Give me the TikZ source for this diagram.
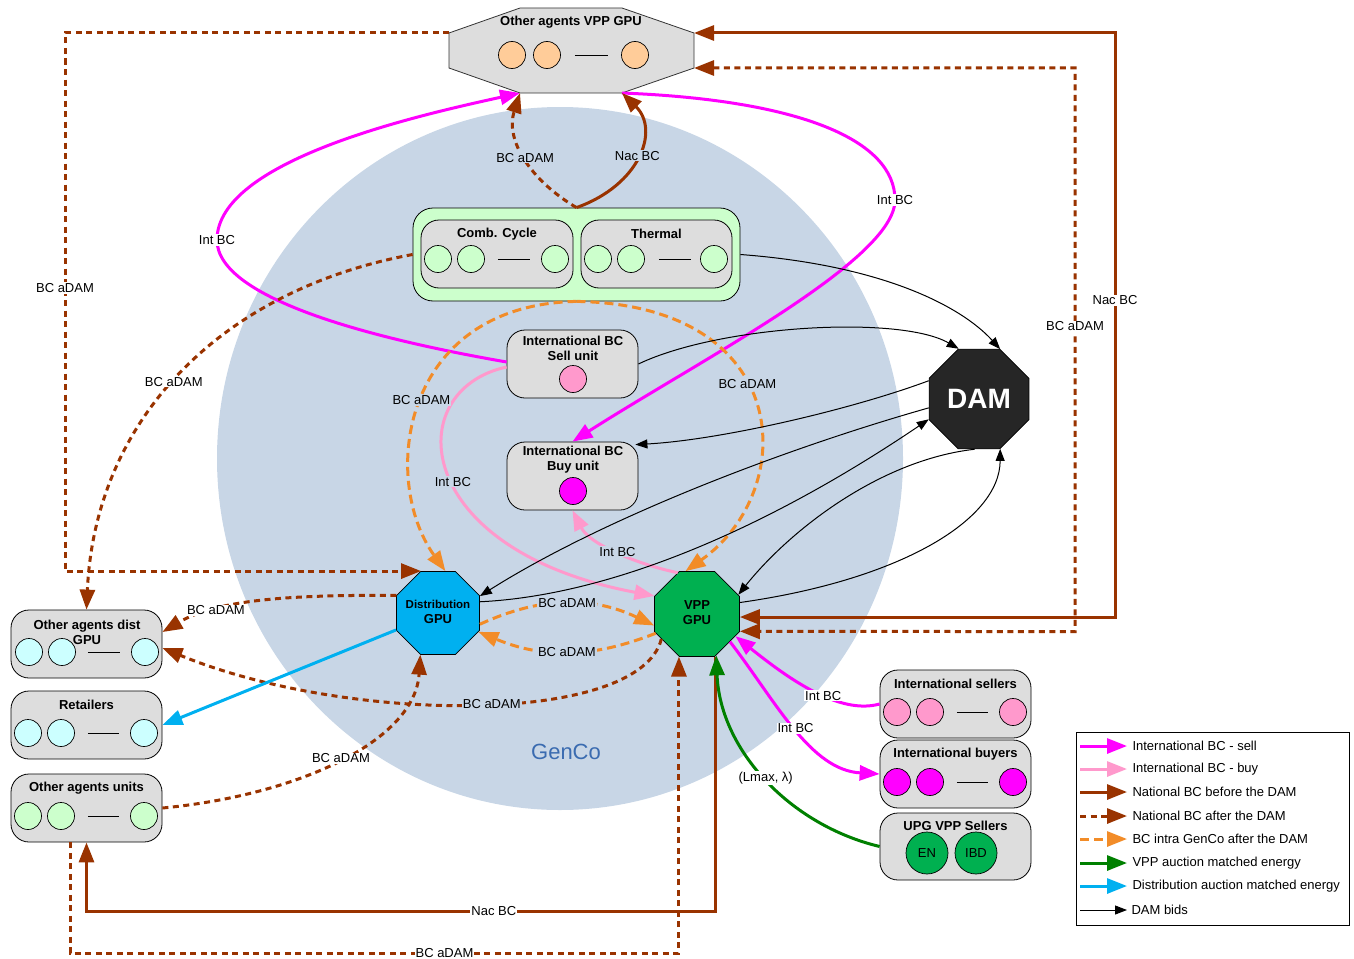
\documentclass[tikz,border=0pt]{standalone}
\usepackage{fontspec}
\setmainfont{Liberation Sans}
\usetikzlibrary{arrows.meta,shapes.geometric,positioning}
\definecolor{gcBg}{HTML}{C8D6E6}
\definecolor{gcBox}{HTML}{DDDDDD}
\definecolor{gcLime}{HTML}{CCFFCC}
\definecolor{gcCyan}{HTML}{CCFFFF}
\definecolor{gcPeach}{HTML}{FFCC99}
\definecolor{gcPink}{HTML}{FF99CC}
\definecolor{gcMag}{HTML}{FF00FF}
\definecolor{gcBrown}{HTML}{993300}
\definecolor{gcOrange}{HTML}{F28C28}
\definecolor{gcGreen}{HTML}{008000}
\definecolor{gcVpp}{HTML}{00B050}
\definecolor{gcDist}{HTML}{00B0F0}
\definecolor{gcDam}{HTML}{262626}
\definecolor{gcText}{HTML}{3A6BB0}
\newcommand{\gcsize}{\fontsize{13}{15}\selectfont}

\begin{document}
\begin{tikzpicture}[x=1pt,y=-1pt,>={Triangle[length=20pt,width=15pt]},
    boxGC/.style={draw=black,fill=gcBox,rounded corners=18pt,line width=0.8pt,inner sep=0pt,minimum width=151pt,minimum height=68pt},
    dotGC/.style={circle,draw=black,line width=0.7pt,minimum size=27pt,inner sep=0pt},
    titleGC/.style={font=\gcsize\bfseries,align=center,inner sep=0pt},
    octaGC/.style={regular polygon,regular polygon sides=8,draw=black,line width=0.7pt,inner sep=0pt},
    lblGC/.style={font=\gcsize,fill=white,inner sep=1pt},
    lblInGC/.style={lblGC,fill=gcBg},
    legGC/.style={font=\gcsize,anchor=west,inner sep=4pt},
    intSellGC/.style={->,draw=gcMag,line width=3pt},
    intBuyGC/.style={->,draw=gcPink,line width=3pt},
    nacGC/.style={->,draw=gcBrown,line width=3pt},
    adamGC/.style={->,draw=gcBrown,line width=3pt,dash pattern=on 6pt off 4.5pt},
    intraGC/.style={->,draw=gcOrange,line width=3pt,dash pattern=on 9pt off 5pt},
    vppEnGC/.style={->,draw=gcGreen,line width=3pt},
    distEnGC/.style={->,draw=gcDist,line width=3pt},
    bidGC/.style={->,>={Triangle[length=12pt,width=9pt]},draw=black,line width=1pt},
]
\useasboundingbox (0,0) rectangle (1354,958);
% GenCo area
\fill[gcBg] (560,458.5) ellipse[x radius=343pt,y radius=351.5pt];
\node[text=gcText,font=\fontsize{22}{26}\selectfont] (gencoT) at (566,752) {GenCo};

% Other agents VPP GPU
\coordinate (vppOtl) at (520,8);
\coordinate (vppOtr) at (622,8);
\coordinate (vppOru) at (694,33);
\coordinate (vppOrd) at (694,68);
\coordinate (vppObr) at (622,93);
\coordinate (vppObl) at (520,93);
\coordinate (vppOld) at (449,68);
\coordinate (vppOlu) at (449,33);
\draw[fill=gcBox,draw=black!80,line width=0.8pt] (vppOtl) -- (vppOtr) -- (vppOru) -- (vppOrd) -- (vppObr) -- (vppObl) -- (vppOld) -- (vppOlu) -- cycle;
\node[dotGC,fill=gcPeach] (vppO1) at (512,55) {};
\node[dotGC,fill=gcPeach] (vppO2) at (547,55) {};
\node[dotGC,fill=gcPeach] (vppO3) at (635,55) {};
\draw ([xshift=14pt]vppO2.east) -- ([xshift=-13pt]vppO3.west);
\node[titleGC] (vppOT) at (571,22) {Other agents VPP GPU};

% GenCo units
\node[draw=black,fill=gcLime,rounded corners=20pt,minimum width=327pt,minimum height=93pt,line width=0.8pt] (genco) at (576.5,254.5) {};
\node[boxGC,minimum width=152pt] (comb) at (497,254) {};
\node[boxGC] (therm) at (656.5,254) {};
\node[dotGC,fill=gcLime] (comb1) at (438,259) {};
\node[dotGC,fill=gcLime] (comb2) at (471,259) {};
\node[dotGC,fill=gcLime] (comb3) at (555,259) {};
\draw ([xshift=13pt]comb2.east) -- ([xshift=-11pt]comb3.west);
\node[dotGC,fill=gcLime] (therm1) at (598,259) {};
\node[dotGC,fill=gcLime] (therm2) at (631,259) {};
\node[dotGC,fill=gcLime] (therm3) at (714,259) {};
\draw ([xshift=14pt]therm2.east) -- ([xshift=-9pt]therm3.west);
\node[titleGC] (combT) at (497,234) {Comb. Cycle};
\node[titleGC] (thermT) at (656.5,234) {Thermal};

% International BC units
\node[boxGC,minimum width=131pt] (sellU) at (572.5,364) {};
\node[dotGC,fill=gcPink] (sell1) at (573,379) {};
\node[titleGC] (sellT) at (573,348.5) {International BC\\Sell unit};
\node[boxGC,minimum width=131pt] (buyU) at (572.5,476) {};
\node[dotGC,fill=gcMag] (buy1) at (573,491) {};
\node[titleGC] (buyT) at (573,460) {International BC\\Buy unit};

% Markets
\node[octaGC,fill=gcDam,minimum size=108pt] (dam) at (979,399) {};
\node[titleGC,text=white,font=\fontsize{28}{30}\selectfont\bfseries] (damT) at (979,399) {DAM};
\node[octaGC,fill=gcDist,minimum size=90pt] (dist) at (438,613) {};
\node[titleGC] (distT) at (438,612) {{\fontsize{11.5}{15}\selectfont Distribution}\\GPU};
\node[octaGC,fill=gcVpp,minimum size=92pt] (vpp) at (697,614) {};
\node[titleGC] (vppT) at (697,613) {VPP\\GPU};

% Left agents
\node[boxGC] (otherD) at (86.5,644) {};
\node[dotGC,fill=gcCyan] (otherD1) at (29,652) {};
\node[dotGC,fill=gcCyan] (otherD2) at (62,652) {};
\node[dotGC,fill=gcCyan] (otherD3) at (145,652) {};
\draw ([xshift=12pt]otherD2.east) -- ([xshift=-11pt]otherD3.west);
\node[titleGC] (otherDT) at (87,632) {Other agents dist\\GPU};
\node[boxGC] (retail) at (86.5,725) {};
\node[dotGC,fill=gcCyan] (retail1) at (28,733) {};
\node[dotGC,fill=gcCyan] (retail2) at (61,733) {};
\node[dotGC,fill=gcCyan] (retail3) at (144,733) {};
\draw ([xshift=13pt]retail2.east) -- ([xshift=-11pt]retail3.west);
\node[titleGC] (retailT) at (86.5,705) {Retailers};
\node[boxGC] (otherU) at (86.5,808) {};
\node[dotGC,fill=gcLime] (otherU1) at (28,816) {};
\node[dotGC,fill=gcLime] (otherU2) at (61,816) {};
\node[dotGC,fill=gcLime] (otherU3) at (144,816) {};
\draw ([xshift=13pt]otherU2.east) -- ([xshift=-11pt]otherU3.west);
\node[titleGC] (otherUT) at (86.5,788) {Other agents units};

% Right agents
\node[boxGC] (intS) at (955.5,704) {};
\node[dotGC,fill=gcPink] (intS1) at (897,712) {};
\node[dotGC,fill=gcPink] (intS2) at (930,712) {};
\node[dotGC,fill=gcPink] (intS3) at (1013,712) {};
\draw ([xshift=13pt]intS2.east) -- ([xshift=-11pt]intS3.west);
\node[titleGC] (intST) at (955.5,684) {International sellers};
\node[boxGC] (intB) at (955.5,774) {};
\node[dotGC,fill=gcMag] (intB1) at (897,782) {};
\node[dotGC,fill=gcMag] (intB2) at (930,782) {};
\node[dotGC,fill=gcMag] (intB3) at (1013,782) {};
\draw ([xshift=13pt]intB2.east) -- ([xshift=-11pt]intB3.west);
\node[titleGC] (intBT) at (955.5,754) {International buyers};
\node[boxGC,minimum height=67pt] (upg) at (955.5,846.5) {};
\node[dotGC,fill=gcVpp,minimum size=42pt,font=\gcsize] (upgEN) at (927,853) {EN};
\node[dotGC,fill=gcVpp,minimum size=42pt,font=\gcsize] (upgIBD) at (976,853) {IBD};
\node[titleGC] (upgT) at (955.5,826) {UPG VPP Sellers};

% International BC - sell
\draw[intSellGC] ([yshift=2pt]sellU.west) .. controls (380,340) and (217,300) .. (217,240) node[lblGC] (lbInt1) {Int BC} .. controls (217,160) and (420,115) .. (vppObl);
\draw[intSellGC] (vppObr) .. controls (800,100) and (895,140) .. (895,200) node[lblGC] (lbInt2) {Int BC} .. controls (895,260) and (700,360) .. (buyU.north);
\draw[intSellGC] (intS.west) .. controls (840,715) and (790,680) .. (vpp.-30) node[lblGC,pos=.43] (lbInt3) {Int BC};
\draw[intSellGC] (vpp.-40) .. controls (775,700) and (810,770) .. (intB.west) node[lblGC,pos=.5] (lbInt4) {Int BC};
% International BC - buy
\draw[intBuyGC] ([yshift=-3pt]sellU.west) .. controls (400,390) and (410,550) .. (vpp.157.5) node[lblInGC,pos=.53] (lbInt5) {Int BC};
\draw[intBuyGC] (vpp.115) .. controls (640,565) and (590,545) .. (buyU.south) node[lblInGC,pos=.5] (lbInt6) {Int BC};

% National BC before the DAM
\draw[nacGC] (genco.north) .. controls (640,185) and (660,130) .. (vppObr) node[lblInGC,pos=.5] (lbNac1) {Nac BC};
\coordinate (nacL) at (86.5,911);
\draw[nacGC] (vpp.-67.5) |- (nacL) node[lblGC,pos=.676] (lbNac2) {Nac BC} -- (otherU.south);
\coordinate (nacR) at (1115,617);
\draw[nacGC,<->] (vppOru) -| (nacR) node[lblGC,pos=.729] (lbNac3) {Nac BC} -- ([yshift=-3pt]vpp.east);

% National BC after the DAM
\draw[adamGC] (genco.north) .. controls (530,180) and (505,140) .. (vppObl) node[lblInGC,pos=.5] (lbAdam1) {BC aDAM};
\coordinate (adamTL) at (65,33);
\draw[adamGC] (vppOlu) -- (adamTL) |- (dist.112.5) node[lblGC,pos=.237] (lbAdam2) {BC aDAM};
\draw[adamGC] (genco.west) .. controls (220,290) and (95,420) .. (otherD.north) node[lblGC,pos=.52] (lbAdam3) {BC aDAM};
\draw[adamGC] (dist.157.5) .. controls (300,595) and (220,598) .. ([yshift=12pt]otherD.east) node[lblGC,pos=.72] (lbAdam4) {BC aDAM};
\draw[adamGC] (vpp.215) .. controls (640,725) and (350,725) .. ([yshift=-4pt]otherD.east) node[lblInGC,pos=.47] (lbAdam5) {BC aDAM};
\draw[adamGC] (otherU.east) .. controls (300,795) and (415,740) .. (dist.247.5) node[lblGC,pos=.5] (lbAdam6) {BC aDAM};
\coordinate (adamBL) at (70,953);
\draw[adamGC] (otherU.south -| adamBL) -- (adamBL) -| (vpp.247.5) node[lblGC,pos=.3075] (lbAdam7) {BC aDAM};
\coordinate (adamR) at (1075,631.6);
\draw[adamGC,<->] (vppOrd) -| (adamR) node[lblGC,pos=.729] (lbAdam8) {BC aDAM} -- (vpp.-22.5);

% BC intra GenCo after the DAM
\draw[intraGC] (genco.south) .. controls (400,305) and (380,480) .. (dist.80) node[lblInGC,pos=.49] (lbIntra1) {BC aDAM};
\draw[intraGC] (genco.south) .. controls (795,305) and (800,490) .. (vpp.105) node[lblInGC,pos=.43] (lbIntra2) {BC aDAM};
\draw[intraGC] (dist.-15) to[bend left=25] node[lblInGC] (lbIntra3) {BC aDAM} (vpp.195);
\draw[intraGC] (vpp.205) to[bend left=22] node[lblInGC] (lbIntra4) {BC aDAM} (dist.-25);

% Matched energy
\draw[distEnGC] (dist.202.5) -- (retail.east);
\draw[vppEnGC] (upg.west) .. controls (790,825) and (720,750) .. (vpp.-65) node[lblGC,pos=.5] (lbLmax) {(Lmax, λ)};

% DAM bids
\draw[bidGC] (genco.east) .. controls (880,265) and (960,305) .. (dam.67.5);
\draw[bidGC] (sellU.east) .. controls (720,325) and (900,315) .. (dam.112.5);
\draw[bidGC] (dam.160) .. controls (850,410) and (720,440) .. ([xshift=-3pt,yshift=-3pt]buyU.north east);
\draw[bidGC] (dam.190) .. controls (780,450) and (600,520) .. (dist.22.5);
\draw[bidGC] (dist.15) .. controls (620,595) and (780,520) .. (dam.202.5);
\draw[bidGC] (dam.-95) .. controls (880,460) and (790,530) .. (vpp.25);
\draw[bidGC] (vpp.15) .. controls (900,580) and (1000,520) .. (dam.-67.5);

% Legend
\node[draw=black,fill=white,line width=0.6pt,minimum width=273pt,minimum height=193pt,inner sep=0pt] (legend) at (1212.5,828.5) {};
\draw[intSellGC] (1080,746) -- (1127,746) node[legGC] (leg1) {International BC - sell};
\draw[intBuyGC] (1080,769) -- (1127,769) node[legGC] (leg2) {International BC - buy};
\draw[nacGC] (1080,792) -- (1127,792) node[legGC] (leg3) {National BC before the DAM};
\draw[adamGC] (1080,816) -- (1127,816) node[legGC] (leg4) {National BC after the DAM};
\draw[intraGC] (1080,839) -- (1127,839) node[legGC] (leg5) {BC intra GenCo after the DAM};
\draw[vppEnGC] (1080,863) -- (1127,863) node[legGC] (leg6) {VPP auction matched energy};
\draw[distEnGC] (1080,886) -- (1127,886) node[legGC] (leg7) {Distribution auction matched energy};
\draw[bidGC] (1080,910) -- (1127,910) node[legGC] (leg8) {DAM bids};
\end{tikzpicture}
\end{document}
